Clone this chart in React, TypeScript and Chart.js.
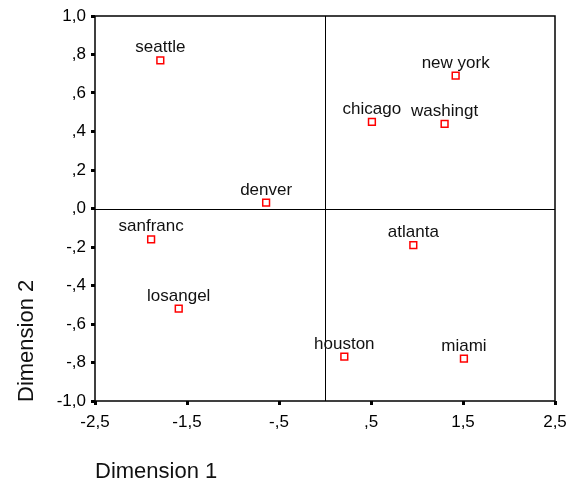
import React, { useEffect, useRef } from "react";
import { Chart, registerables } from "chart.js";

Chart.register(...registerables);

const cities = ["seattle", "denver", "new york", "chicago", "washingt", "sanfranc", "losangel", "houston", "atlanta", "miami"];
const dim1 = [-1.79, -0.64, 1.42, 0.51, 1.30, -1.89, -1.59, 0.21, 0.96, 1.51];
const dim2 = [0.77, 0.03, 0.69, 0.45, 0.44, -0.16, -0.52, -0.77, -0.19, -0.78];
const xTitle = "Dimension 1";
const yTitle = "Dimension 2";

const FONT = "Arial, 'Liberation Sans', sans-serif";

function fmt(v: number): string {
  const val = Math.abs(v) < 1e-9 ? 0 : v;
  let s = val.toFixed(1).replace(".", ",");
  s = s.replace(/^(-?)0,/, "$1,");
  return s;
}

const framePlugin = {
  id: "frame",
  beforeDatasetsDraw(chart: any) {
    const { ctx, chartArea: a, scales } = chart;
    ctx.save();
    ctx.strokeStyle = "#000";
    ctx.lineWidth = 1;
    const x0 = Math.round(scales.x.getPixelForValue(0)) + 0.5;
    const y0 = Math.round(scales.y.getPixelForValue(0)) + 0.5;
    ctx.beginPath();
    ctx.moveTo(x0, a.top);
    ctx.lineTo(x0, a.bottom);
    ctx.moveTo(a.left, y0);
    ctx.lineTo(a.right, y0);
    ctx.stroke();
    ctx.lineWidth = 1.5;
    ctx.strokeRect(a.left, a.top, a.right - a.left, a.bottom - a.top);
    ctx.restore();
  },
  afterDatasetsDraw(chart: any) {
    const { ctx } = chart;
    const meta = chart.getDatasetMeta(0);
    ctx.save();
    ctx.fillStyle = "#111";
    ctx.font = `17px ${FONT}`;
    ctx.textAlign = "center";
    ctx.textBaseline = "alphabetic";
    meta.data.forEach((pt: any, i: number) => {
      ctx.fillText(cities[i], pt.x, pt.y - 8);
    });
    ctx.restore();
  },
  afterDraw(chart: any) {
    const { ctx, chartArea: a } = chart;
    ctx.save();
    ctx.fillStyle = "#111";
    ctx.font = `22px ${FONT}`;
    ctx.textBaseline = "middle";
    ctx.textAlign = "left";
    ctx.fillText(xTitle, a.left, 472);
    ctx.translate(27, a.bottom + 1);
    ctx.rotate(-Math.PI / 2);
    ctx.fillText(yTitle, 0, 0);
    ctx.restore();
  },
};

export default function App() {
  const ref = useRef<HTMLCanvasElement | null>(null);
  useEffect(() => {
    document.body.style.margin = "0";
    const chart = new Chart(ref.current as HTMLCanvasElement, {
      type: "scatter",
      data: {
        datasets: [
          {
            data: dim1.map((x, i) => ({ x, y: dim2[i] })),
            pointStyle: "rect",
            radius: 4.8,
            hoverRadius: 4.8,
            borderColor: "#ff0000",
            backgroundColor: "#ffffff",
            borderWidth: 1.5,
          },
        ],
      },
      options: {
        responsive: false,
        animation: false,
        devicePixelRatio: 1,
        layout: { padding: { top: 16, right: 14, left: 0, bottom: 0 } },
        plugins: { legend: { display: false }, tooltip: { enabled: false } },
        scales: {
          x: {
            type: "linear",
            min: -2.5,
            max: 2.5,
            afterFit: (s: any) => { s.height = 84; s.paddingLeft = 0; s.paddingRight = 0; },
            ticks: { stepSize: 1, color: "#000", font: { size: 17, family: FONT }, padding: 7, callback: (v: any) => fmt(Number(v)), maxRotation: 0 },
            grid: { drawOnChartArea: false, drawTicks: true, tickLength: 4, tickWidth: 3, tickColor: "#000" },
            border: { display: false },
          },
          y: {
            type: "linear",
            min: -1,
            max: 1,
            afterFit: (s: any) => { s.width = 95; s.paddingTop = 0; s.paddingBottom = 0; },
            ticks: { stepSize: 0.2, color: "#000", font: { size: 17, family: FONT }, padding: 5, callback: (v: any) => fmt(Number(v)) },
            grid: { drawOnChartArea: false, drawTicks: true, tickLength: 4, tickWidth: 3, tickColor: "#000" },
            border: { display: false },
          },
        },
      },
      plugins: [framePlugin],
    } as any);
    return () => chart.destroy();
  }, []);
  return (
    <div style={{ position: "absolute", left: 0, top: 0, width: 569, height: 485, background: "#fff" }}>
      <canvas ref={ref} width={569} height={485} style={{ width: 569, height: 485 }} />
    </div>
  );
}
